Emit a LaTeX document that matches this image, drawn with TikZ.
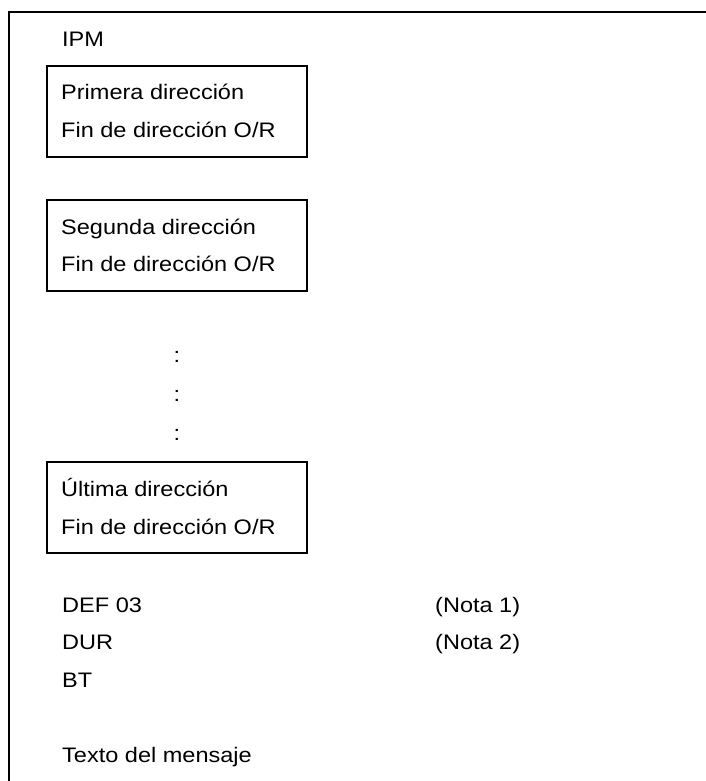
\documentclass[tikz,border=0pt]{standalone}
\usepackage{fontspec}
\setmainfont[FakeStretch=1.12]{Liberation Sans}
\usepackage{tikz}
\usetikzlibrary{calc, positioning}
\newcommand{\msgfont}{\fontsize{21}{37.5}\selectfont}

\begin{document}
\begin{tikzpicture}[x=1pt, y=-1pt,
  frame/.style={line width=2pt},
  addrbox/.style={draw, line width=2pt, minimum width=260pt, minimum height=91pt, inner sep=0pt},
  txt/.style={anchor=base west, inner sep=0pt, font=\msgfont},
  dots/.style={anchor=base, inner sep=0pt, font=\msgfont}]
\useasboundingbox (0,0) rectangle (706,781);
%frame
\draw[frame] (706,12) -- (9,12) -- (9,781);
%header
\node[txt] (ipm) at (62,47) {IPM};
%addresses
\node[addrbox] (first) at (177,111.5) {};
\node[txt] (firstname) at ($(first.north west)+(15,34.5)$) {Primera dirección};
\node[txt] (firstend) at ($(firstname.base west)+(0,37.5)$) {Fin de dirección O/R};
\node[addrbox] (second) at (177,245) {};
\node[txt] (secondname) at ($(second.north west)+(15,35.5)$) {Segunda dirección};
\node[txt] (secondend) at ($(secondname.base west)+(0,37.5)$) {Fin de dirección O/R};
\foreach \y/\n in {362/a, 401/b, 440/c}
  \node[dots] (skip\n) at (177,\y) {:};
\node[addrbox] (last) at (177,507.5) {};
\node[txt] (lastname) at ($(last.north west)+(15,35.5)$) {Última dirección};
\node[txt] (lastend) at ($(lastname.base west)+(0,37.5)$) {Fin de dirección O/R};
%trailer
\node[txt] (def) at (62,612) {DEF 03};
\node[txt] (dur) at (62,649.5) {DUR};
\node[txt] (bt) at (62,687) {BT};
\node[txt] (note1) at (435,612) {(Nota 1)};
\node[txt] (note2) at (435,649.5) {(Nota 2)};
\node[txt] (body) at (62,762) {Texto del mensaje};
\end{tikzpicture}
\end{document}
